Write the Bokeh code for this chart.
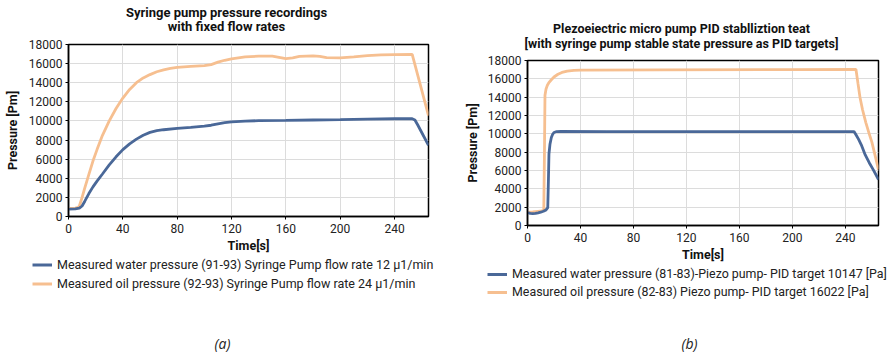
from bokeh.plotting import figure
from bokeh.models import Legend, LegendItem, Label, SingleIntervalTicker, Range1d
from bokeh.layouts import row, column
from bokeh.embed import file_html
from bokeh.resources import INLINE

# ---------------- data (a) ----------------
a_water_t = [0, 5, 8, 10, 12, 15, 18, 21, 25, 30, 35, 40, 45, 50, 55, 60, 65, 70, 80, 90, 100,
             105, 110, 115, 120, 130, 140, 160, 180, 200, 220, 240, 250, 253, 255, 257, 265]
a_water_v = [780, 800, 880, 1100, 1600, 2400, 3100, 3700, 4450, 5400, 6250, 7000, 7600, 8100, 8500,
             8800, 8980, 9080, 9220, 9330, 9450, 9550, 9700, 9820, 9900, 9980, 10030, 10060, 10100,
             10130, 10180, 10230, 10250, 10230, 10100, 9600, 7450]
a_oil_t = [0, 5, 7, 8, 10, 12, 15, 18, 21, 25, 30, 35, 40, 45, 50, 55, 60, 65, 70, 75, 80, 90, 100,
           105, 110, 115, 120, 130, 140, 150, 155, 160, 165, 170, 180, 185, 190, 200, 210, 220, 230,
           240, 253, 265]
a_oil_v = [850, 870, 950, 1100, 2000, 3000, 4400, 5800, 7000, 8500, 10000, 11300, 12400, 13300,
           14000, 14500, 14850, 15150, 15350, 15500, 15600, 15700, 15800, 15900, 16150, 16350, 16500,
           16700, 16780, 16780, 16650, 16520, 16600, 16750, 16820, 16750, 16620, 16600, 16700, 16830,
           16920, 16950, 16970, 10550]

# ---------------- data (b) ----------------
b_water_t = [0, 2, 4, 6, 8, 10, 12, 14, 15.3, 15.8, 16.2, 17, 18, 19, 20, 22, 25, 60, 120, 200,
             246.5, 248, 250, 252, 255, 258, 261, 265]
b_water_v = [1420, 1330, 1300, 1320, 1380, 1450, 1550, 1700, 1950, 5000, 7800, 8900, 9600, 9950,
             10150, 10250, 10260, 10250, 10250, 10250, 10250, 9900, 9400, 8800, 7700, 6850, 6100, 5000]
b_oil_t = [0, 4, 8, 11, 12.3, 12.8, 13.2, 14, 15, 16, 18, 20, 23, 26, 30, 35, 40, 100, 200, 248,
           249.5, 251, 253, 255.5, 258, 260, 263, 265]
b_oil_v = [1450, 1480, 1550, 1600, 1700, 8000, 14200, 14900, 15300, 15550, 15900, 16200, 16500,
           16700, 16850, 16930, 16960, 16980, 17000, 17020, 15500, 14000, 12600, 11200, 10000, 9100,
           7300, 6100]

title_a = ["Syringe pump pressure recordings", "with fixed flow rates"]
title_b = ["Plezoeiectric micro pump PID stablliztion teat",
           "[with syringe pump stable state pressure as PID targets]"]
legend_a = ["Measured water pressure (91-93) Syringe Pump flow rate 12 \u03bc1/min",
            "Measured oil pressure (92-93) Syringe Pump flow rate 24 \u03bc1/min"]
legend_b = ["Measured water pressure (81-83)-Piezo pump- PID target 10147 [Pa]",
            "Measured oil pressure (82-83) Piezo pump- PID target 16022 [Pa]"]
captions = ["(a)", "(b)"]
x_label = "Time[s]"
y_label = "Pressure [Pm]"

BLUE = "#4a6898"
ORANGE = "#f6bf90"
FONT = "Roboto"


def blank(height):
    f = figure(width=444, height=height, output_backend="svg", toolbar_location=None,
               title_location=None, x_axis_location=None, y_axis_location=None,
               x_range=Range1d(0, 1), y_range=Range1d(0, 1),
               min_border=0)
    f.frame_align = False
    f.grid.visible = False
    f.outline_line_color = None
    f.background_fill_color = "white"
    f.border_fill_color = "white"
    return f


def make_panel(wt, wv, ot, ov, titles, legends, caption, top_h, title_x, title_y, title_size,
               borders, frame_h, leg_h, leg_pos, leg_spacing, leg_row, leg_size, cap_x,
               label_standoff):
    # ---- title strip ----
    ft = blank(top_h)
    for txt, ty in zip(titles, title_y):
        ft.add_layout(Label(x=title_x, y=ty, x_units="screen", y_units="screen", text=txt,
                            text_font=FONT, text_font_size=title_size, text_font_style="bold",
                            text_align="center", text_baseline="middle", text_color="#111111"))

    # ---- plot ----
    left, right, top, bottom = borders
    p = figure(width=444, height=top + frame_h + bottom, output_backend="svg",
               toolbar_location=None, title_location=None,
               x_range=Range1d(0, 265), y_range=Range1d(0, 18000),
               min_border_left=left, min_border_right=right, min_border_top=top,
               min_border_bottom=bottom)
    p.frame_align = False
    p.outline_line_color = "black"
    p.outline_line_width = 1.5
    p.background_fill_color = "white"
    p.border_fill_color = "white"

    p.xaxis.ticker = SingleIntervalTicker(interval=40, num_minor_ticks=0)
    p.yaxis.ticker = SingleIntervalTicker(interval=2000, num_minor_ticks=0)
    for ax in (p.xaxis, p.yaxis):
        ax.axis_line_color = "black"
        ax.axis_line_width = 1.5
        ax.major_tick_line_color = "black"
        ax.major_tick_in = 0
        ax.major_tick_out = 3
        ax.minor_tick_line_color = None
        ax.major_label_text_font = FONT
        ax.major_label_text_font_size = "12px"
        ax.major_label_text_color = "#222222"
        ax.axis_label_text_font = FONT
        ax.axis_label_text_font_size = "12.5px"
        ax.axis_label_text_font_style = "bold"
        ax.axis_label_text_color = "#111111"
    p.xaxis.axis_label = x_label
    p.yaxis.axis_label = y_label
    p.xaxis.major_label_standoff = 4
    p.yaxis.major_label_standoff = 3
    p.xaxis.axis_label_standoff = 2
    p.yaxis.axis_label_standoff = label_standoff

    p.xgrid.grid_line_color = "#dcdcdc"
    p.ygrid.grid_line_color = "#dcdcdc"

    p.line(ot, ov, line_color=ORANGE, line_width=2.8)
    p.line(wt, wv, line_color=BLUE, line_width=2.8)

    # ---- legend + caption strip (one-point line renderers: only their swatch shows) ----
    fl = blank(leg_h)
    lw = fl.line(x=wt[:1], y=wv[:1], line_color=BLUE, line_width=3)
    lo = fl.line(x=ot[:1], y=ov[:1], line_color=ORANGE, line_width=3)
    leg = Legend(items=[LegendItem(label=legends[0], renderers=[lw]),
                        LegendItem(label=legends[1], renderers=[lo])],
                 location=leg_pos, padding=0, margin=0, spacing=leg_spacing,
                 glyph_width=20, glyph_height=leg_row, label_height=leg_row,
                 label_standoff=5, border_line_alpha=0, background_fill_alpha=0,
                 label_text_font=FONT, label_text_font_size=leg_size,
                 label_text_color="#222222")
    fl.add_layout(leg, "center")
    fl.add_layout(Label(x=cap_x, y=11, x_units="screen", y_units="screen", text=caption,
                        text_font="Open Sans", text_font_size="14px",
                        text_font_style="italic", text_align="center", text_baseline="middle",
                        text_color="#222222"))
    return column(ft, p, fl)


ca = make_panel(a_water_t, a_water_v, a_oil_t, a_oil_v, title_a, legend_a, captions[0],
                36, 226, (24.3, 10), "13px", (68, 16, 8, 40), 172, 98, (32, 63), 4, 15,
                "12.5px", 222, 6)
cb = make_panel(b_water_t, b_water_v, b_oil_t, b_oil_v, title_b, legend_b, captions[1],
                52, 237, (23.7, 8.7), "12.5px", (83, 10, 8, 36), 168, 90, (43, 55), 3, 14,
                "12.4px", 245, 5)

layout = row(ca, cb)
open("out.html", "w").write(file_html(layout, INLINE))
